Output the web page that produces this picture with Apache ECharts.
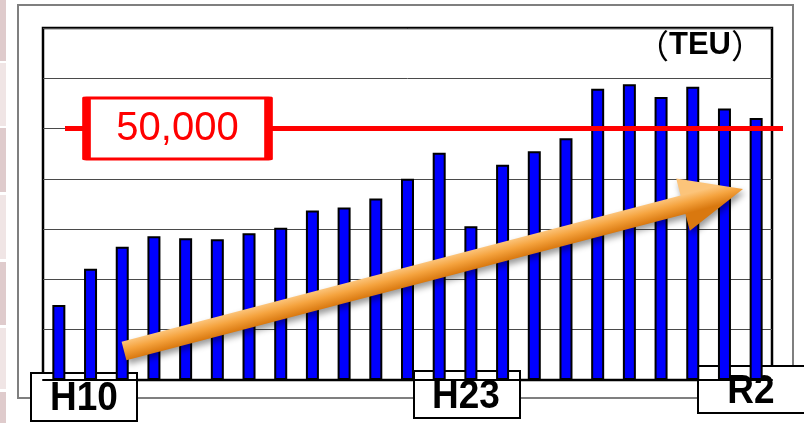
<!DOCTYPE html>
<html><head><meta charset="utf-8">
<script src="https://cdn.jsdelivr.net/npm/echarts@6/dist/echarts.min.js"></script>
<style>html,body{margin:0;padding:0;background:#fff}#c{width:804px;height:423px}</style>
</head><body><div id="c"></div>
<script>
// ---- data ----
const categories = ['H10','H11','H12','H13','H14','H15','H16','H17','H18','H19','H20','H21','H22','H23','H24','H25','H26','H27','H28','H29','H30','R1','R2'];
const teuValues = [14900, 22100, 26500, 28600, 28200, 28000, 29200, 30300, 33700, 34300, 36100, 40000, 45200, 30600, 42800, 45500, 48100, 57900, 58800, 56300, 58300, 54000, 52100];
const yMin = 0, yMax = 70000, yInterval = 10000;
const targetValue = 50000;
const targetLabel = '50,000';
const unitLabel = ['（', 'TEU', '）'];
const periodLabels = ['H10', 'H23', 'R2'];

const chart = echarts.init(document.getElementById('c'), null, {renderer: 'canvas'});

// decorative trend arrow geometry (annotation)
function arrowPoints(tail, tip, halfShaft, halfHead, headLen) {
  const dx = tip[0] - tail[0], dy = tip[1] - tail[1];
  const L = Math.sqrt(dx * dx + dy * dy);
  const u = [dx / L, dy / L], n = [-u[1], u[0]];
  const b = [tip[0] - u[0] * headLen, tip[1] - u[1] * headLen];
  const p = (o, k) => [o[0] + n[0] * k, o[1] + n[1] * k];
  return { pts: [p(tail, -halfShaft), p(b, -halfShaft), p(b, -halfHead), tip, p(b, halfHead), p(b, halfShaft), p(tail, halfShaft)],
           g0: p(tail, -halfShaft), g1: p(tail, halfShaft) };
}
const arr = arrowPoints([124, 351], [743, 189], 9.5, 27, 62);

function labelBox(x, y, w, h, text, cx, cy) {
  return {
    type: 'group', z: 30, children: [
      { type: 'rect', shape: { x: x, y: y, width: w, height: h }, style: { fill: '#fff', stroke: '#000', lineWidth: 2 } },
      { type: 'text', x: cx, y: cy, scaleY: 1.1, style: { text: text, font: 'bold 37px "Liberation Sans", Arial, sans-serif', fill: '#000', align: 'center', verticalAlign: 'middle' } }
    ]
  };
}

const strips = [[0, 61, '#dfcbcc'], [63, 63, '#f0e5e5'], [128, 64, '#dfcbcc'], [195, 64, '#f0e5e5'], [262, 63, '#dfcbcc'], [328, 61, '#f0e5e5'], [392, 31, '#dfcbcc']];

const option = {
  animation: false,
  backgroundColor: '#fff',
  grid: [
    { left: 43, top: 28, right: 32, bottom: 43, show: true, backgroundColor: '#fff', borderColor: '#000', borderWidth: 2.5 },
    { left: 65, top: 28, right: 21, bottom: 43, show: false }
  ],
  xAxis: [
    { type: 'category', gridIndex: 0, data: categories, axisLine: { show: true, lineStyle: { color: '#000', width: 2 } }, axisTick: { show: false }, axisLabel: { show: false } },
    { type: 'value', gridIndex: 1, min: 0, max: 1, show: false }
  ],
  yAxis: [
    { type: 'value', gridIndex: 0, min: yMin, max: yMax, interval: yInterval, axisLabel: { show: false }, axisTick: { show: false },
      axisLine: { show: false }, splitLine: { show: true, lineStyle: { color: '#4a4a4a', width: 1 } } },
    { type: 'value', gridIndex: 1, min: yMin, max: yMax, interval: yInterval, show: false, splitLine: { show: false } }
  ],
  series: [
    { type: 'bar', xAxisIndex: 0, yAxisIndex: 0, data: teuValues, barWidth: 13,
      itemStyle: { color: '#0000ff', borderColor: '#000', borderWidth: 2 } },
    { type: 'line', xAxisIndex: 1, yAxisIndex: 1, data: [], z: 5,
      markLine: { silent: true, symbol: ['none', 'none'], label: { show: false },
        lineStyle: { color: '#ff0000', width: 5, type: 'solid' },
        data: [{ yAxis: targetValue }] },
      markPoint: { silent: true, symbol: 'rect', symbolSize: [182, 61],
        itemStyle: { color: '#fff', borderColor: '#ff0000', borderWidth: 5, borderJoin: 'round' },
        label: { show: true, position: 'inside', formatter: targetLabel, color: '#ff0000', fontSize: 40, fontFamily: '"Liberation Sans", Arial, sans-serif' },
        data: [{ coord: [0.1567, targetValue] }] }
    }
  ],
  graphic: [
    ...strips.map(s => ({ type: 'rect', z: 1, shape: { x: 0, y: s[0], width: 6, height: s[1] }, style: { fill: s[2] } })),
    { type: 'rect', z: -1, shape: { x: 18, y: 5, width: 775, height: 393 }, style: { fill: null, stroke: '#7f7f7f', lineWidth: 2 } },
    { type: 'text', z: 20, right: 40, top: 29,
      style: { text: '{p|' + unitLabel[0] + '}{t|' + unitLabel[1] + '}{p|' + unitLabel[2] + '}',
        rich: { p: { font: '33px "Noto Sans CJK JP", sans-serif', fill: '#000' }, t: { font: 'bold 31px "Liberation Sans", Arial, sans-serif', fill: '#000' } } } },
    { type: 'polygon', z: 15, shape: { points: arr.pts },
      style: { fill: new echarts.graphic.LinearGradient(arr.g0[0], arr.g0[1], arr.g1[0], arr.g1[1], [
        { offset: 0, color: '#fcc47a' }, { offset: 0.45, color: '#f5a33e' }, { offset: 1, color: '#d9780f' }], true),
        shadowBlur: 6, shadowColor: 'rgba(0,0,0,0.4)', shadowOffsetX: 2, shadowOffsetY: 4 } },
    labelBox(31, 373, 106, 48, periodLabels[0], 84, 399),
    labelBox(414, 371, 106, 47, periodLabels[1], 466, 397),
    labelBox(698, 366, 110, 47, periodLabels[2], 751, 392)
  ]
};
chart.setOption(option);
</script>
</body></html>
